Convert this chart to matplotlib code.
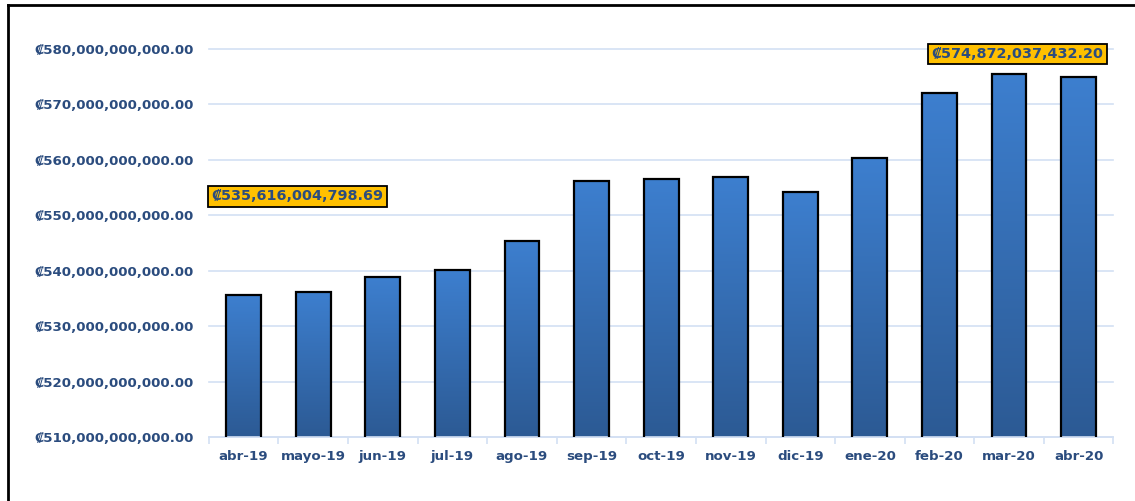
import numpy as np
import matplotlib.pyplot as plt
from matplotlib.lines import Line2D
from matplotlib.colors import LinearSegmentedColormap

meses = ["abr-19", "mayo-19", "jun-19", "jul-19", "ago-19", "sep-19", "oct-19",
         "nov-19", "dic-19", "ene-20", "feb-20", "mar-20", "abr-20"]
# miles de millones de colones
montos = [535.616, 536.16, 538.87, 540.13, 545.36, 556.19, 556.55,
          556.90, 554.20, 560.34, 572.06, 575.49, 574.872]
etiqueta_ini = "₡535,616,004,798.69"
etiqueta_fin = "₡574,872,037,432.20"

azul_txt = "#2b4c7e"
grid_c = "#d3e0f3"

fig = plt.figure(figsize=(11.35, 5.01), dpi=100)
ax = fig.add_axes([0.184, 0.1277, 0.797, 0.7745])

x = np.arange(len(meses))
bars = ax.bar(x, montos, width=0.5, color="none", edgecolor="black",
              linewidth=1.6, zorder=3)

# gradiente vertical en cada barra
grad = np.linspace(0, 1, 256).reshape(-1, 1)
cmap = LinearSegmentedColormap.from_list("g", ["#2c5a94", "#3d7fcf"])
for b in bars:
    x0, w, top = b.get_x(), b.get_width(), b.get_height()
    ax.imshow(grad, cmap=cmap, aspect="auto", origin="lower",
              extent=[x0, x0 + w, 510, top], zorder=2)

ax.set_xlim(-0.5, len(meses) - 0.5)
ax.set_ylim(510, 580)
ax.set_yticks(np.arange(510, 581, 10))
ax.set_yticklabels(["₡{:,.2f}".format(v * 1e9) for v in np.arange(510, 581, 10)])
ax.set_xticks(x)
ax.set_xticklabels(meses)
ax.set_xticks(np.arange(-0.5, len(meses), 1), minor=True)

ax.grid(axis="y", color=grid_c, linewidth=1.2, zorder=0)
for gl in ax.get_ygridlines():
    gl.set_clip_on(False)
for s in ["top", "right", "left"]:
    ax.spines[s].set_visible(False)
ax.spines["bottom"].set_color(grid_c)
ax.spines["bottom"].set_linewidth(1.2)
ax.tick_params(axis="y", length=0, pad=11, labelsize=9.6, labelcolor=azul_txt)
ax.tick_params(axis="x", which="major", length=0, pad=9, labelsize=9.6, labelcolor=azul_txt)
ax.tick_params(axis="x", which="minor", length=5, color=grid_c, width=1.2)
for lbl in ax.get_xticklabels() + ax.get_yticklabels():
    lbl.set_fontweight("bold")

caja = dict(boxstyle="square,pad=0.22", facecolor="#ffc000", edgecolor="black", linewidth=1.3)
ax.text(-0.46, 553.4, etiqueta_ini, ha="left", va="center", fontsize=10.4,
        fontweight="bold", color=azul_txt, bbox=caja, zorder=5)
ax.text(11.12, 579.1, etiqueta_fin, ha="center", va="center", fontsize=10.4,
        fontweight="bold", color=azul_txt, bbox=caja, zorder=5)

# marco del grafico
fig.add_artist(Line2D([8 / 1135, 8 / 1135], [0, 1 - 5 / 501], color="black",
                      linewidth=2, transform=fig.transFigure))
fig.add_artist(Line2D([8 / 1135, 1], [1 - 5 / 501, 1 - 5 / 501], color="black",
                      linewidth=2, transform=fig.transFigure))

fig.savefig("out.png", dpi=100)
